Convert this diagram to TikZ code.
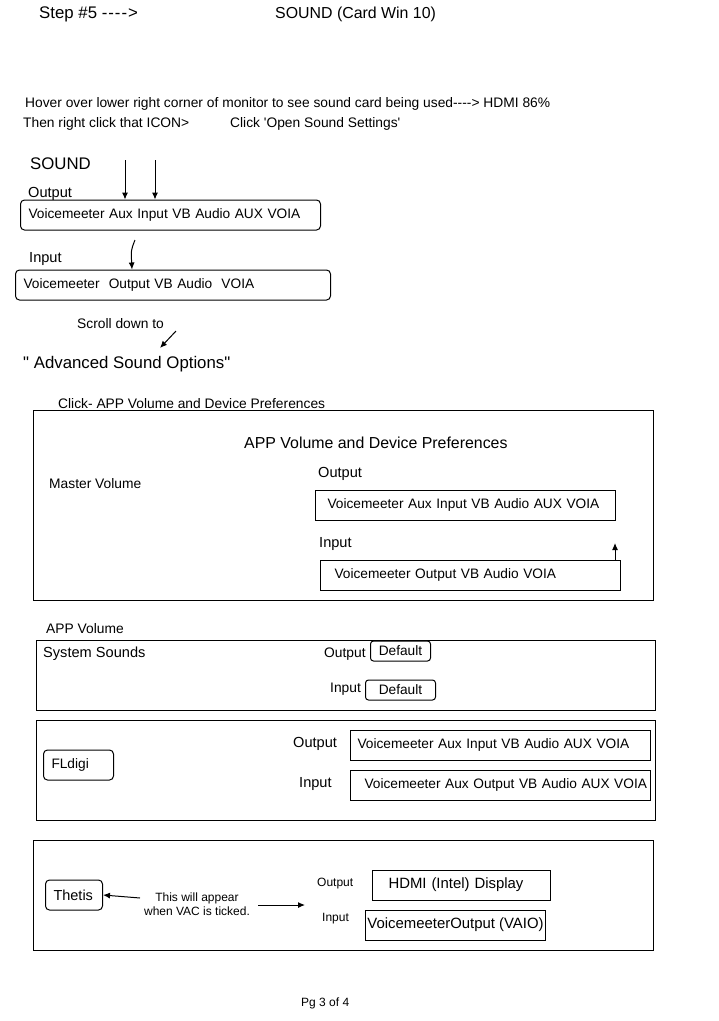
\documentclass[tikz,border=0pt]{standalone}
\usepackage{fontspec}
\setmainfont{Liberation Sans}[Ligatures=TeXOff]
\usetikzlibrary{arrows.meta}
\tikzset{
  txt/.style={anchor=west, inner sep=0pt, font=\fontsize{13.8}{16}\selectfont},
  lbl/.style={txt, font=\fontsize{14.6}{17}\selectfont},
  big/.style={txt, font=\fontsize{16.8}{19}\selectfont},
  small/.style={txt, font=\fontsize{12}{14}\selectfont},
  rbox/.style={draw, line width=1pt, rounded corners=4pt, anchor=west, align=left, inner xsep=8pt, minimum height=30pt, font=\fontsize{13.7}{16}\selectfont},
  sbox/.style={draw, line width=1pt, anchor=west, align=left, inner xsep=8pt, minimum height=30pt, font=\fontsize{13.7}{16}\selectfont},
  frame/.style={draw, line width=1pt},
  arr/.style={line width=1pt, -{Latex[length=7pt,width=6pt]}}
}
\begin{document}
\begin{tikzpicture}[x=1pt,y=-1pt]
\useasboundingbox (0,0) rectangle (719,1021);

% heading
\node[big] (step) at (39,14) {Step \#5 -\kern1pt-\kern1pt-\kern1pt-\kern1pt>};
\node[txt, font=\fontsize{15.9}{18}\selectfont] (title) at (275,14) {SOUND (Card Win 10)};
\node[txt] (hover) at (25,104) {Hover over lower right corner of monitor to see sound card being used----> HDMI 86\%};
\node[txt] (then) at (23,124) {Then right click that ICON>};
\node[txt] (open) at (230,124) {Click 'Open Sound Settings'};

% sound settings
\node[big] (sound) at (30,164) {SOUND};
\node[lbl] (outlbl) at (28,194) {Output};
\node[rbox, text width=284pt] (outbox) at (20,215) {Voicemeeter Aux Input VB Audio AUX VOIA};
\node[lbl] (inlbl) at (29,259) {Input};
\node[rbox, text width=299pt] (inbox) at (15,285) {Voicemeeter~ Output VB Audio~ VOIA};
\coordinate (a1) at (125,160);
\coordinate (a2) at (155,160);
\coordinate (a3) at (135,240);
\draw[arr] (a1) -- (outbox.north -| a1);
\draw[arr] (a2) -- (outbox.north -| a2);
\draw[arr] (a3) .. controls (131,250) .. (inbox.north -| 132,0);

\node[txt] (scroll) at (77,324) {Scroll down to};
\coordinate (s1) at (176,331);
\coordinate (s2) at (160,348);
\draw[arr] (s1) -- (s2);
\node[big] (adv) at (23,364) {" Advanced Sound Options"};

% app volume and device preferences
\node[txt] (click) at (58,404) {Click- APP Volume and Device Preferences};
\draw[frame] (33,410) rectangle (653,600);
\node[txt, font=\fontsize{15.9}{18}\selectfont] (apptitle) at (244,443) {APP Volume and Device Preferences};
\node[txt] (master) at (49,484) {Master Volume};
\node[lbl] (devout) at (318,474) {Output};
\node[sbox, inner xsep=12pt, text width=276pt] (devoutbox) at (315,505) {Voicemeeter Aux Input VB Audio AUX VOIA};
\node[lbl] (devin) at (319,544) {Input};
\node[sbox, inner xsep=14pt, text width=272pt] (devinbox) at (320,575) {Voicemeeter Output VB Audio VOIA};
\coordinate (up) at (615,543);
\draw[arr] (devinbox.north -| up) -- (up);

% app volume
\node[txt] (appvol) at (46,629) {APP Volume};
\draw[frame] (36,640) rectangle (655,710);
\node[lbl] (sys) at (43,654) {System Sounds};
\node[txt] (sysout) at (324,654) {Output};
\node[draw, line width=1pt, rounded corners=3pt, anchor=west, minimum width=60pt, minimum height=20pt, inner sep=0pt, font=\fontsize{13.7}{16}\selectfont] (sysoutbox) at (370,651) {\raisebox{-4pt}{Default}};
\node[txt] (sysin) at (330,689) {Input};
\node[draw, line width=1pt, rounded corners=3pt, anchor=west, minimum width=70pt, minimum height=20pt, inner sep=0pt, font=\fontsize{13.7}{16}\selectfont] (sysinbox) at (365,690) {Default};

% fldigi
\draw[frame] (36,720) rectangle (655,820);
\node[rbox, minimum width=70pt, text width=54pt] (fldigi) at (43,765) {FLdigi};
\node[lbl] (flout) at (293,744) {Output};
\node[sbox, inner xsep=7pt, text width=286pt] (floutbox) at (350,745) {Voicemeeter Aux Input VB Audio AUX VOIA};
\node[lbl] (flin) at (299,784) {Input};
\node[sbox, inner xsep=0pt, text width=300pt] (flinbox) at (350,785) {\hspace*{14pt}Voicemeeter Aux Output VB Audio AUX VOIA};

% thetis
\draw[frame] (33,840) rectangle (653,950);
\node[rbox, minimum width=57pt, text width=41pt, font=\fontsize{14.5}{17}\selectfont] (thetis) at (45,895) {Thetis};
\node[inner sep=0pt, align=center, font=\fontsize{12}{14.5}\selectfont] (note) at (197,904) {This will appear\\when VAC is ticked.};
\coordinate (n1) at (140,898);
\coordinate (n2) at (258,905);
\coordinate (n3) at (305,905);
\draw[arr] (n1) -- (thetis.east);
\draw[arr] (n2) -- (n3);
\node[small] (thout) at (317,884) {Output};
\node[draw, line width=1pt, anchor=west, align=left, minimum width=178pt, minimum height=30pt, inner xsep=16pt, text width=146pt, font=\fontsize{14.9}{17}\selectfont] (thoutbox) at (372,885) {HDMI (Intel) Display};
\node[small] (thin) at (322,919) {Input};
\node[draw, line width=1pt, anchor=west, minimum width=180pt, minimum height=30pt, inner xsep=1pt, font=\fontsize{14.9}{17}\selectfont] (thinbox) at (365,925) {VoicemeeterOutput (VAIO)};

\node[small] (page) at (301,1003) {Pg 3 of 4};
\end{tikzpicture}
\end{document}
